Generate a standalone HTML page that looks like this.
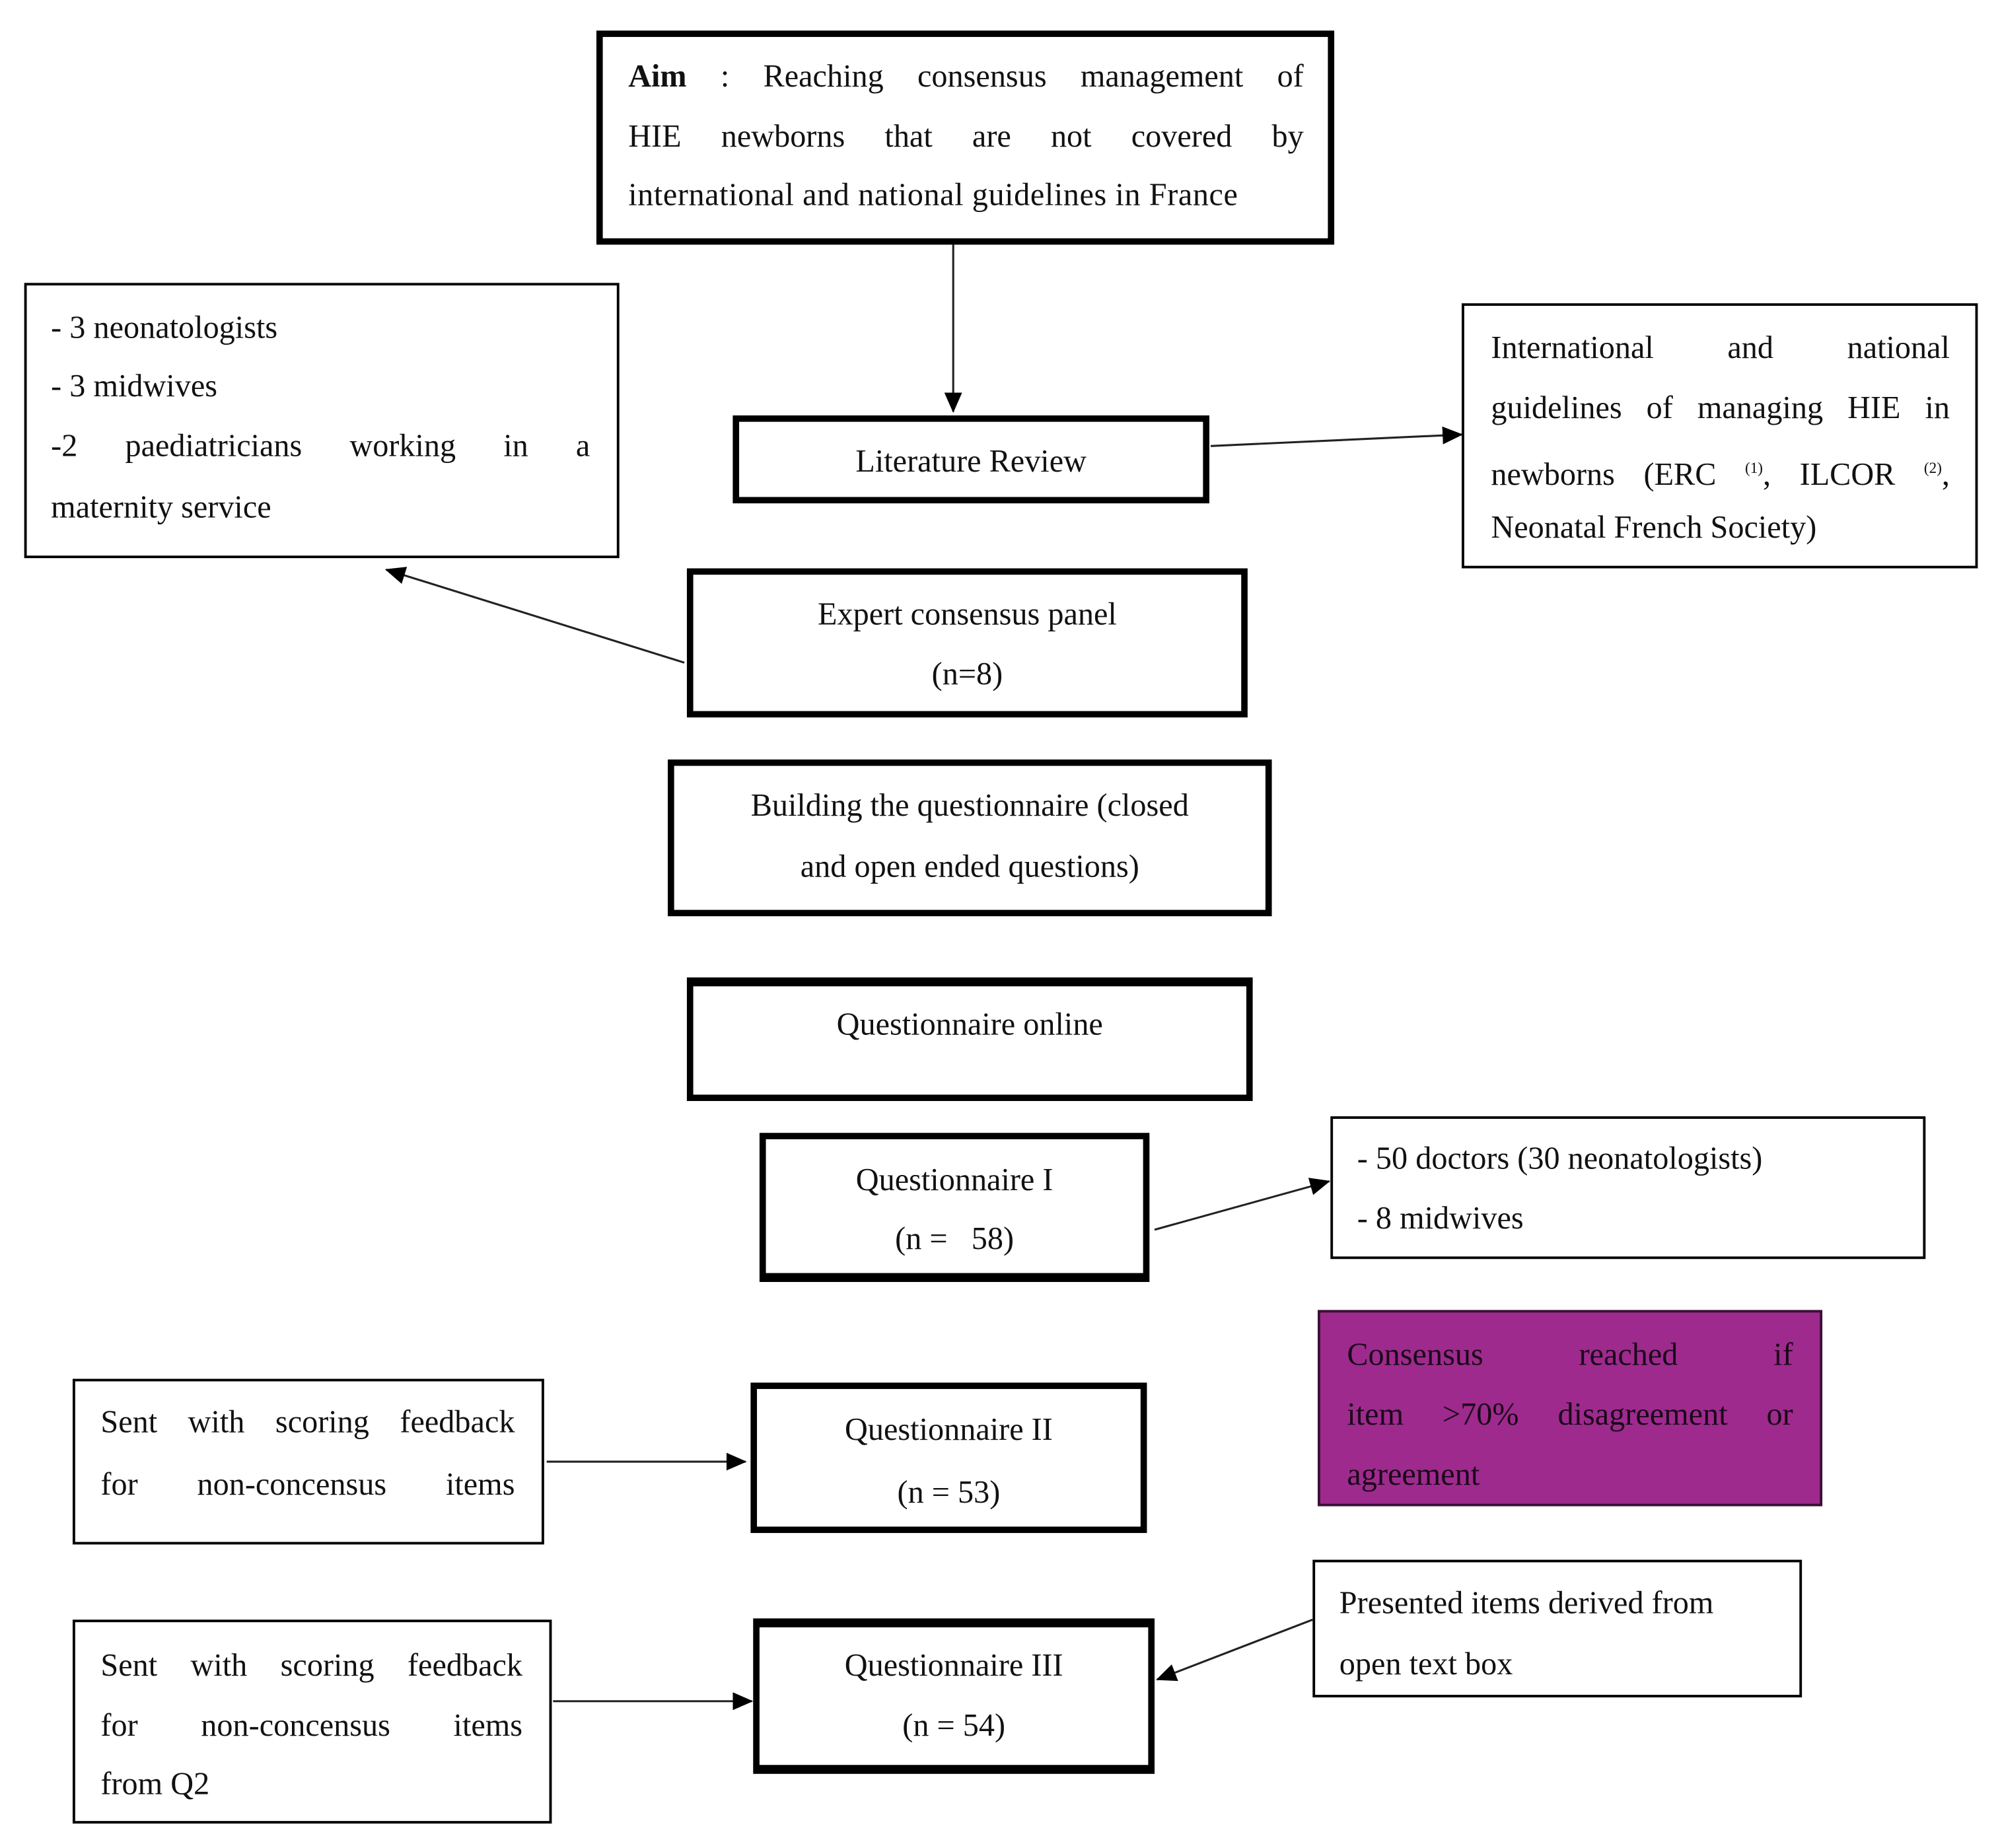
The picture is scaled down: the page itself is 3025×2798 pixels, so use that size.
<!DOCTYPE html>
<html><head><meta charset="utf-8"><style>
html,body{margin:0;padding:0;background:#fff;}
#w{position:absolute;left:0;top:0;width:1560px;height:1443px;transform:scale(1.9294,1.9294);transform-origin:0 0;font-family:"Liberation Serif",serif;font-size:25px;color:#111;}
.b{position:absolute;box-sizing:border-box;border:2px solid #000;background:#fff;}
.t{border-width:5px;}
.l{position:absolute;white-space:nowrap;line-height:30px;}
.j{text-align:justify;text-align-last:justify;}
.c{text-align:center;}
svg{position:absolute;left:0;top:0;}
</style></head><body><div id="w">
<svg width="1560" height="1443" viewBox="0 0 1560 1443">
<defs>
<marker id="a2" markerWidth="16" markerHeight="14" refX="15" refY="7" orient="auto" markerUnits="userSpaceOnUse"><path d="M0,0 L16,7 L0,14 z" fill="#000"/></marker></defs>
<g stroke="#222" stroke-width="1.6" fill="none">
<line x1="748" y1="190" x2="748" y2="323" marker-end="url(#a2)"/>
<line x1="950" y1="350" x2="1147" y2="341" marker-end="url(#a2)"/>
<line x1="537" y1="520" x2="303" y2="447" marker-end="url(#a2)"/>
<line x1="906" y1="965" x2="1043" y2="927" marker-end="url(#a2)"/>
<line x1="429" y1="1147" x2="585" y2="1147" marker-end="url(#a2)"/>
<line x1="434" y1="1335" x2="590" y2="1335" marker-end="url(#a2)"/>
<line x1="1030" y1="1271" x2="908" y2="1318" marker-end="url(#a2)"/>
</g></svg>

<div class="b t" style="left:468px;top:24px;width:579px;height:168px"></div>
<div class="l j" style="left:493px;top:46px;width:530px"><b>Aim</b>&nbsp;: Reaching consensus management of</div>
<div class="l j" style="left:493px;top:93px;width:530px">HIE newborns that are not covered by</div>
<div class="l" style="left:493px;top:139px;width:530px;letter-spacing:0.3px">international and national guidelines in France</div>

<div class="b" style="left:19px;top:222px;width:467px;height:216px"></div>
<div class="l" style="left:40px;top:243px">- 3 neonatologists</div>
<div class="l" style="left:40px;top:289px">- 3 midwives</div>
<div class="l j" style="left:40px;top:336px;width:423px">-2 paediatricians working in a</div>
<div class="l" style="left:40px;top:384px">maternity service</div>

<div class="b t" style="left:575px;top:326px;width:374px;height:69px"></div>
<div class="l c" style="left:575px;top:348px;width:374px">Literature Review</div>

<div class="b" style="left:1147px;top:238px;width:405px;height:208px"></div>
<div class="l j" style="left:1170px;top:259px;width:360px">International and national</div>
<div class="l j" style="left:1170px;top:306px;width:360px">guidelines of managing HIE in</div>
<div class="l j" style="left:1170px;top:352px;width:360px">newborns (ERC <sup style="font-size:12px">(1)</sup>, ILCOR <sup style="font-size:12px">(2)</sup>,</div>
<div class="l" style="left:1170px;top:400px">Neonatal French Society)</div>

<div class="b t" style="left:539px;top:446px;width:440px;height:117px"></div>
<div class="l c" style="left:539px;top:468px;width:440px">Expert consensus panel</div>
<div class="l c" style="left:539px;top:515px;width:440px">(n=8)</div>

<div class="b t" style="left:524px;top:596px;width:474px;height:123px"></div>
<div class="l c" style="left:524px;top:618px;width:474px">Building the questionnaire (closed</div>
<div class="l c" style="left:524px;top:666px;width:474px">and open ended questions)</div>

<div class="b t" style="left:539px;top:767px;width:444px;height:97px;border-top-width:7px"></div>
<div class="l c" style="left:539px;top:790px;width:444px">Questionnaire online</div>

<div class="b t" style="left:596px;top:889px;width:306px;height:117px;border-bottom-width:7px"></div>
<div class="l c" style="left:596px;top:912px;width:306px">Questionnaire I</div>
<div class="l c" style="left:596px;top:958px;width:306px">(n = &nbsp;&nbsp;58)</div>

<div class="b" style="left:1044px;top:876px;width:467px;height:112px"></div>
<div class="l" style="left:1065px;top:895px">- 50 doctors (30 neonatologists)</div>
<div class="l" style="left:1065px;top:942px">- 8 midwives</div>

<div class="b" style="left:1034px;top:1028px;width:396px;height:154px;background:#9e2a8e;border-color:#3a1035"></div>
<div class="l j" style="left:1057px;top:1049px;width:350px;color:#1a0818">Consensus reached if</div>
<div class="l j" style="left:1057px;top:1096px;width:350px;color:#1a0818">item &gt;70% disagreement or</div>
<div class="l" style="left:1057px;top:1143px;color:#1a0818">agreement</div>

<div class="b" style="left:57px;top:1082px;width:370px;height:130px"></div>
<div class="l j" style="left:79px;top:1102px;width:325px">Sent with scoring feedback</div>
<div class="l j" style="left:79px;top:1151px;width:325px">for non-concensus items</div>

<div class="b t" style="left:589px;top:1085px;width:311px;height:118px"></div>
<div class="l c" style="left:589px;top:1108px;width:311px">Questionnaire II</div>
<div class="l c" style="left:589px;top:1157px;width:311px">(n = 53)</div>

<div class="b" style="left:1030px;top:1224px;width:384px;height:108px"></div>
<div class="l" style="left:1051px;top:1244px">Presented items derived from</div>
<div class="l" style="left:1051px;top:1292px">open text box</div>

<div class="b" style="left:57px;top:1271px;width:376px;height:160px"></div>
<div class="l j" style="left:79px;top:1293px;width:331px">Sent with scoring feedback</div>
<div class="l j" style="left:79px;top:1340px;width:331px">for non-concensus items</div>
<div class="l" style="left:79px;top:1386px">from Q2</div>

<div class="b t" style="left:591px;top:1270px;width:315px;height:122px;border-top-width:7px;border-bottom-width:7px"></div>
<div class="l c" style="left:591px;top:1293px;width:315px">Questionnaire III</div>
<div class="l c" style="left:591px;top:1340px;width:315px">(n = 54)</div>
</div></body></html>
